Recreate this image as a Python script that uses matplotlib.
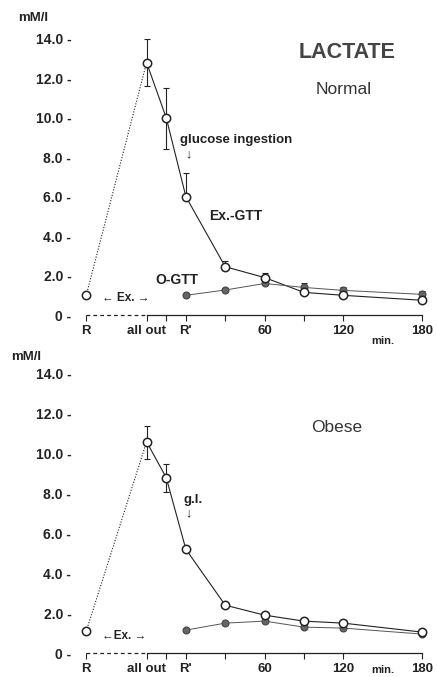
import numpy as np
import matplotlib
matplotlib.use('Agg')
import matplotlib.pyplot as plt

plt.rcParams['font.family'] = ['Liberation Sans', 'DejaVu Sans']

# time points (min, relative to R'); R and all out are on a broken scale
x_ex = [-76, -30, -15, 0, 30, 60, 90, 120, 180]
x_o = [0, 30, 60, 90, 120, 180]
xtick_pos = [-76, -30, 0, 60, 120, 180]
xtick_lab = ['R', 'all out', "R'", '60', '120', '180']
xminor = [-15, 30, 90]
ytick_pos = [0, 2, 4, 6, 8, 10, 12, 14]
ytick_lab = ['0 -', '2.0 -', '4.0 -', '6.0 -', '8.0 -', '10.0 -', '12.0 -', '14.0 -']

# Normal
normal_ex = [1.0, 12.8, 10.0, 6.0, 2.45, 1.9, 1.15, 1.0, 0.75]
normal_ex_up = [0, 1.2, 1.5, 1.2, 0.3, 0.25, 0.2, 0.15, 0.15]
normal_ex_dn = [0, 1.2, 1.6, 0, 0, 0, 0, 0, 0]
normal_o = [1.0, 1.27, 1.6, 1.4, 1.25, 1.05]
normal_o_up = [0, 0, 0.15, 0.25, 0.15, 0.15]

# Obese
obese_ex = [1.1, 10.6, 8.8, 5.2, 2.4, 1.9, 1.6, 1.5, 1.05]
obese_ex_up = [0, 0.8, 0.7, 0, 0, 0.15, 0.15, 0.15, 0.1]
obese_ex_dn = [0, 0.85, 0.7, 0, 0, 0, 0, 0, 0]
obese_o = [1.15, 1.5, 1.6, 1.3, 1.25, 0.95]
obese_o_up = [0, 0, 0.15, 0, 0.1, 0.1]

ink = '#222222'

fig = plt.figure(figsize=(4.37, 6.77), dpi=100)
ax1 = fig.add_axes([0.1854, 0.5259, 0.795, 0.4254])
ax2 = fig.add_axes([0.1854, 0.0266, 0.795, 0.4298])


def draw_panel(ax, ex, ex_up, ex_dn, o, o_up, min_y):
    ax.set_xlim(-80, 185)
    ax.set_ylim(-0.3, 14.3)
    for s in ['top', 'right', 'left']:
        ax.spines[s].set_visible(False)
    ax.spines['bottom'].set_position(('data', 0))
    ax.spines['bottom'].set_bounds(x_ex[1], x_ex[-1])
    ax.spines['bottom'].set_color(ink)
    ax.spines['bottom'].set_linewidth(0.9)
    # broken part of the time axis
    ax.plot([x_ex[0], x_ex[1]], [0, 0], ls=(0, (3, 2.5)), color=ink, lw=0.9,
            clip_on=False)

    ax.set_xticks(xtick_pos)
    ax.set_xticklabels(xtick_lab, fontsize=9.5, fontweight='bold', color=ink)
    ax.set_xticks(xminor, minor=True)
    ax.tick_params(axis='x', which='both', direction='out', length=4,
                   width=0.8, color=ink, pad=3)
    ax.set_yticks(ytick_pos)
    ax.set_yticklabels(ytick_lab, fontsize=10, fontweight='bold', color=ink)
    ax.tick_params(axis='y', length=0, pad=7)

    # O-GTT
    ax.errorbar(x_o, o, yerr=[np.zeros(len(o_up)), o_up], fmt='none',
                ecolor=ink, elinewidth=0.7, capsize=2, capthick=0.7, zorder=2)
    ax.plot(x_o, o, color='#555555', lw=0.7, marker='o', ms=5,
            mfc='#666666', mec='#444444', mew=0.8, zorder=3)
    # Ex.-GTT
    ax.errorbar(x_ex, ex, yerr=[ex_dn, ex_up], fmt='none', ecolor=ink,
                elinewidth=0.8, capsize=2, capthick=0.8, zorder=2)
    ax.plot(x_ex[:2], ex[:2], color=ink, lw=0.8, ls=(0, (1, 1.5)), zorder=2)
    ax.plot(x_ex[1:], ex[1:], color=ink, lw=0.8, zorder=2)
    ax.plot(x_ex, ex, ls='none', marker='o', ms=6, mfc='white', mec=ink,
            mew=1.1, zorder=4)

    ax.text(150, min_y, 'min.', fontsize=8, fontweight='bold', color=ink,
            ha='center', va='center', clip_on=False)


draw_panel(ax1, normal_ex, normal_ex_up, normal_ex_dn, normal_o, normal_o_up, -1.3)
draw_panel(ax2, obese_ex, obese_ex_up, obese_ex_dn, obese_o, obese_o_up, -0.85)

# top panel annotations
fig.text(33 / 437, 1 - 18 / 677, 'mM/l', fontsize=9.5, fontweight='bold',
         color=ink, ha='center', va='center')
fig.text(347 / 437, 1 - 52 / 677, 'LACTATE', fontsize=15.5, fontweight='bold',
         color='#444444', ha='center', va='center')
fig.text(344 / 437, 1 - 89 / 677, 'Normal', fontsize=12.5, color='#333333',
         ha='center', va='center')
fig.text(180 / 437, 1 - 140 / 677, 'glucose ingestion', fontsize=9.5,
         fontweight='bold', color=ink, ha='left', va='center')
fig.text(188 / 437, 1 - 154 / 677, '\u2193', fontsize=9, color=ink,
         ha='center', va='center')
fig.text(209 / 437, 1 - 216 / 677, 'Ex.-GTT', fontsize=10, fontweight='bold',
         color=ink, ha='left', va='center')
fig.text(155 / 437, 1 - 280 / 677, 'O-GTT', fontsize=10, fontweight='bold',
         color=ink, ha='left', va='center')
fig.text(126 / 437, 1 - 298 / 677, '\u2190 Ex. \u2192', fontsize=8.5,
         fontweight='bold', color=ink, ha='center', va='center')

# bottom panel annotations
fig.text(26 / 437, 1 - 357 / 677, 'mM/l', fontsize=9.5, fontweight='bold',
         color=ink, ha='center', va='center')
fig.text(337 / 437, 1 - 427 / 677, 'Obese', fontsize=12.5, color='#333333',
         ha='center', va='center')
fig.text(184 / 437, 1 - 500 / 677, 'g.l.', fontsize=9.5, fontweight='bold',
         color=ink, ha='left', va='center')
fig.text(188 / 437, 1 - 513 / 677, '\u2193', fontsize=9, color=ink,
         ha='center', va='center')
fig.text(124 / 437, 1 - 636 / 677, '\u2190Ex. \u2192', fontsize=8.5,
         fontweight='bold', color=ink, ha='center', va='center')

fig.savefig('out.png', dpi=100)
